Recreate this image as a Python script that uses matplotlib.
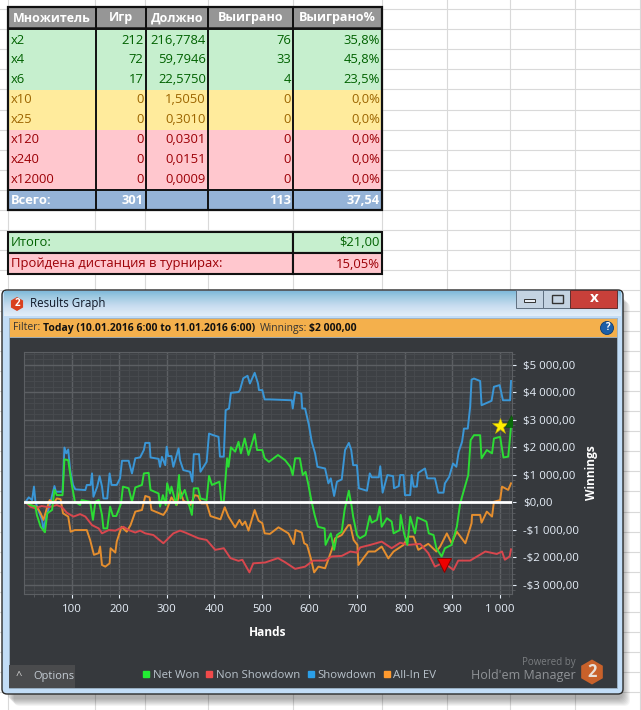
import numpy as np
import matplotlib.pyplot as plt
from matplotlib.lines import Line2D
from matplotlib.patches import Rectangle, FancyBboxPatch, Circle, RegularPolygon

# Datos de la tabla
multiplicadores = ["x2", "x4", "x6", "x10", "x25", "x120", "x240", "x12000"]
juegos = [212, 72, 17, 0, 0, 0, 0, 0]
debido = ["216,7784", "59,7946", "22,5750", "1,5050", "0,3010", "0,0301", "0,0151", "0,0009"]
ganados = [76, 33, 4, 0, 0, 0, 0, 0]
porcentaje = ["35,8%", "45,8%", "23,5%", "0,0%", "0,0%", "0,0%", "0,0%", "0,0%"]
encabezados = ["Множитель", "Игр", "Должно", "Выиграно", "Выиграно%"]
totales = ["Всего:", "301", "", "113", "37,54"]
resumen_etiquetas = ["Итого:", "Пройдена дистанция в турнирах:"]
resumen_valores = ["$21,00", "15,05%"]

# Datos del gráfico
manos_won = [3, 13, 24, 27, 35, 44, 49, 59, 64, 69, 81, 85, 93, 100, 107, 118, 121, 139, 145, 150, 157, 164, 167, 175, 181, 187, 194, 199, 204, 208, 220, 227, 234, 248, 252, 262, 266, 283, 286, 292, 298, 301, 307, 310, 320, 326, 329, 338, 353, 357, 366, 371, 384, 389, 395, 411, 415, 420, 427, 430, 435, 444, 451, 456, 464, 472, 485, 490, 501, 506, 515, 534, 549, 560, 565, 570, 580, 586, 592, 598, 604, 611, 618, 632, 634, 645, 652, 658, 668, 674, 683, 689, 692, 700, 706, 718, 727, 731, 742, 748, 752, 763, 773, 777, 790, 792, 799, 806, 812, 822, 827, 846, 851, 861, 867, 878, 885, 899, 910, 917, 924, 934, 939, 946, 959, 962, 973, 984, 988, 1001, 1008, 1018, 1024]
net_won = [0, -110, -170, -470, -900, -1100, -410, -290, 440, 250, 250, 1550, 1520, 680, 10, -110, 70, 10, -650, 10, 70, -470, -960, -960, -170, -510, -510, -290, -50, 560, 500, 10, 530, 620, 1040, 1060, 440, 310, -170, 250, -110, 680, 310, 560, -110, 980, 130, 440, -470, 500, 500, 130, 70, 950, 620, 740, 10, 10, 1590, 1280, 1990, 1830, 2190, 1770, 2310, 1710, 2470, 1890, 1890, 1590, 1460, 1710, 1520, 1280, 980, 1590, 1590, 980, 1100, 620, 70, -470, -900, -960, -1560, -1140, -1740, -1200, -1080, -290, 410, -170, -530, -1200, -1320, -1200, -510, -750, -650, -170, -900, -590, -710, -1140, -1020, -470, -1140, -1560, -530, -1140, -560, -710, -1140, -1200, -1680, -1980, -1680, -1560, -900, -50, 380, 980, 2250, 2430, 2430, 1590, 1890, 1770, 2310, 2370, 1620, 1650, 2730]

manos_non = [3, 13, 24, 37, 52, 69, 80, 90, 104, 118, 129, 143, 157, 164, 178, 192, 209, 220, 234, 244, 255, 272, 293, 314, 328, 339, 367, 384, 402, 420, 434, 451, 459, 474, 482, 507, 534, 549, 570, 591, 608, 633, 647, 668, 686, 700, 707, 728, 752, 773, 791, 808, 833, 850, 864, 882, 903, 913, 938, 970, 994, 1005, 1011, 1021, 1024]
non_showdown = [0, -170, -230, -145, -190, -110, -190, -390, -530, -440, -530, -840, -960, -1140, -1020, -1040, -900, -1020, -1110, -1040, -1140, -1200, -1500, -1140, -1040, -1110, -1320, -1380, -1740, -1680, -2040, -2140, -2100, -2560, -2230, -2200, -2040, -2190, -2430, -2350, -2130, -2130, -1980, -1960, -1800, -1840, -1650, -1560, -1440, -1680, -1480, -1560, -1520, -1860, -2350, -2200, -2470, -2130, -2130, -1800, -1890, -1800, -2100, -1980, -1720]

manos_show = [3, 10, 17, 21, 24, 30, 38, 41, 47, 55, 64, 67, 81, 85, 89, 93, 97, 103, 108, 129, 132, 140, 143, 146, 154, 159, 164, 167, 175, 180, 184, 195, 202, 206, 220, 227, 234, 244, 252, 255, 264, 266, 283, 286, 290, 297, 300, 303, 310, 314, 325, 328, 335, 349, 354, 357, 368, 371, 384, 389, 398, 409, 412, 420, 424, 431, 435, 451, 454, 461, 470, 475, 485, 492, 494, 501, 506, 517, 563, 565, 570, 583, 585, 591, 599, 605, 612, 617, 633, 640, 645, 652, 658, 668, 675, 683, 688, 692, 700, 704, 721, 727, 731, 746, 749, 754, 764, 776, 778, 788, 791, 798, 801, 812, 815, 819, 826, 829, 843, 848, 864, 871, 882, 885, 894, 902, 909, 914, 921, 925, 933, 938, 941, 946, 959, 962, 983, 988, 1000, 1007, 1022, 1024]
showdown = [0, 170, 70, 560, 10, -290, -650, -1020, -530, -50, 580, 375, 375, 1980, 1770, 1910, 1160, 620, 460, 435, 620, 620, 1040, 190, 560, 940, 560, 130, 130, 1040, 620, 620, 860, 1500, 1500, 1040, 1590, 1620, 1890, 2150, 2150, 1620, 1570, 1280, 1640, 1340, 2010, 1670, 1670, 1280, 1950, 1520, 1160, 1100, 740, 1740, 1740, 1100, 1460, 2490, 2430, 2370, 1650, 1650, 3340, 3400, 3970, 4000, 4070, 4500, 4590, 4310, 4700, 4310, 4070, 4070, 3730, 3730, 3700, 3400, 4000, 3940, 3400, 3400, 2800, 2190, 1770, 1280, 1220, 680, 860, 220, 740, 820, 1890, 2150, 1890, 1340, 1340, 500, 410, 1040, 900, 900, 1300, 340, 980, 940, 500, 580, 980, 980, 250, 250, 980, 560, 560, 1060, 1220, 860, 860, 340, 340, 680, 920, 1400, 1280, 1830, 2190, 2670, 2670, 3460, 4450, 4490, 4400, 3520, 3680, 4190, 4250, 3700, 3700, 4400]

manos_ev = [3, 13, 27, 35, 41, 47, 54, 62, 69, 77, 82, 93, 98, 107, 121, 132, 139, 147, 157, 160, 164, 171, 180, 182, 192, 195, 205, 216, 224, 234, 248, 255, 264, 268, 293, 300, 310, 321, 328, 335, 350, 359, 366, 373, 384, 392, 413, 422, 430, 444, 453, 459, 465, 472, 479, 485, 493, 501, 506, 517, 535, 556, 567, 571, 584, 589, 595, 604, 610, 619, 633, 647, 654, 668, 682, 686, 693, 701, 703, 711, 724, 738, 752, 766, 777, 798, 808, 819, 829, 850, 867, 875, 889, 899, 910, 928, 941, 942, 959, 962, 973, 984, 988, 1001, 1005, 1018, 1024]
all_in_ev = [0, -110, -170, -410, -650, -290, 70, -50, 130, 100, -410, -530, -1080, -1020, -1020, -1020, -1380, -1920, -1860, -1620, -2290, -2350, -2230, -1680, -1840, -1440, -900, -1080, -840, -350, -290, 220, 170, -290, -470, -290, 170, -110, 440, 50, -110, 250, 220, -50, -50, -510, -630, -190, -530, -920, -650, -840, -710, -1040, -630, -290, -680, -770, -1140, -1160, -920, -1140, -1530, -1020, -1110, -1500, -1560, -2110, -2560, -2350, -2410, -1740, -1320, -1200, -840, -840, -1380, -1560, -2290, -2100, -1800, -1800, -1620, -2050, -1800, -1560, -1260, -1260, -1740, -1520, -1800, -1620, -1140, -1500, -1080, -1500, -770, -470, -470, -750, -350, -530, 10, 70, 560, 440, 680]

ticks_manos = [100, 200, 300, 400, 500, 600, 700, 800, 900, 1000]
etiquetas_manos = ["100", "200", "300", "400", "500", "600", "700", "800", "900", "1 000"]
ticks_dinero = [5000, 4000, 3000, 2000, 1000, 0, -1000, -2000, -3000]
etiquetas_dinero = ["$5 000,00", "$4 000,00", "$3 000,00", "$2 000,00", "$1 000,00", "$0,00",
                    "-$1 000,00", "-$2 000,00", "-$3 000,00"]

plt.rcParams['font.family'] = ['Open Sans', 'DejaVu Sans']

# Configuración de la figura
fig = plt.figure(figsize=(6.41, 7.10), dpi=100)
fondo = fig.add_axes([0, 0, 1, 1])
fondo.set_xlim(0, 641)
fondo.set_ylim(710, 0)
fondo.axis('off')

# Cuadrícula de Excel
for x in [8, 95, 145, 208, 293, 382, 447, 510, 575, 640]:
    fondo.plot([x, x], [0, 710], color='#d9d9d9', lw=0.8, zorder=1)
for y in np.arange(9, 710, 20.1):
    fondo.plot([0, 641], [y, y], color='#d9d9d9', lw=0.8, zorder=1)

# Tabla superior
columnas = [8, 95.5, 145.5, 208, 293, 382]
filas = [30, 49.5, 69.5, 89.5, 109.5, 129.5, 149.5, 169.5, 189.5]
relleno = ['#c6efce'] * 3 + ['#ffeb9c'] * 2 + ['#ffc7ce'] * 3
texto = ['#006100'] * 3 + ['#9c6500'] * 2 + ['#9c0006'] * 3

for c in range(5):
    x0, x1 = columnas[c], columnas[c + 1]
    fondo.add_patch(Rectangle((x0, 7), x1 - x0, 21, fc='#969696', ec='#222222', lw=1.2, zorder=2))
    fondo.text((x0 + x1) / 2, 18, encabezados[c], color='white', fontsize=9.0, fontweight='bold',
               ha='center', va='center', zorder=3)
for i in range(8):
    y0, y1 = filas[i], filas[i + 1]
    fondo.add_patch(Rectangle((8, y0), 374, y1 - y0, fc=relleno[i], ec='none', zorder=2))
    valores = [juegos[i], debido[i], ganados[i], porcentaje[i]]
    fondo.text(11, y0 + 10, multiplicadores[i], color=texto[i], fontsize=9.4, va='center', zorder=3)
    for c in range(4):
        fondo.text(columnas[c + 2] - 2, y0 + 10, str(valores[c]), color=texto[i], fontsize=9.4,
                   ha='right', va='center', zorder=3)

fondo.add_patch(Rectangle((8, 189.5), 374, 20.5, fc='#95b3d7', ec='none', zorder=2))
fondo.text(11, 200, totales[0], color='white', fontsize=9.3, fontweight='bold', va='center', zorder=3)
for c in [1, 3, 4]:
    fondo.text(columnas[c + 1] - 2, 200, totales[c], color='white', fontsize=9.3, fontweight='bold',
               ha='right', va='center', zorder=3)

# Bordes de la tabla
fondo.add_patch(Rectangle((8, 7), 374, 203, fc='none', ec='#111111', lw=1.6, zorder=4))
fondo.plot([8, 382], [189.5, 189.5], color='#111111', lw=1.4, zorder=4)
fondo.plot([8, 382], [29, 29], color='#111111', lw=1.4, zorder=4)
for x in columnas[1:-1]:
    fondo.plot([x, x], [7, 210], color='#111111', lw=1.4, zorder=4)

# Tabla de resumen
alto = [232, 253, 274]
for i in range(2):
    color_f = '#c6efce' if i == 0 else '#ffc7ce'
    color_t = '#006100' if i == 0 else '#9c0006'
    fondo.add_patch(Rectangle((8, alto[i]), 285, alto[i + 1] - alto[i], fc=color_f, ec='#111111', lw=1.5, zorder=3))
    fondo.add_patch(Rectangle((293, alto[i]), 89, alto[i + 1] - alto[i], fc=color_f, ec='#111111', lw=1.5, zorder=3))
    fondo.text(11, alto[i] + 11, resumen_etiquetas[i], color=color_t, fontsize=9.4, va='center', zorder=4)
    fondo.text(380, alto[i] + 11, resumen_valores[i], color=color_t, fontsize=9.4, ha='right', va='center', zorder=4)

# Ventana de Results Graph
for k in range(1, 9):
    fondo.add_patch(FancyBboxPatch((6 + k, 294 + k), 616, 404, boxstyle='round,pad=0,rounding_size=6',
                                   fc='black', ec='none', alpha=0.045, zorder=5))
fondo.add_patch(FancyBboxPatch((2, 290), 621, 404, boxstyle='round,pad=0,rounding_size=5',
                               fc='#c2ddf7', ec='#2b2b2b', lw=1.0, zorder=6))
degradado = np.linspace(0, 1, 30).reshape(-1, 1)
fondo.imshow(degradado, extent=(4, 621, 316, 291), aspect='auto', cmap='Blues_r', vmin=-1.6, vmax=1.3, zorder=7)
fondo.set_xlim(0, 641)
fondo.set_ylim(710, 0)

fondo.add_patch(RegularPolygon((17, 304), 6, radius=7, fc='#d9401f', ec='none', zorder=8))
fondo.text(17, 304, "2", color='white', fontsize=7, fontweight='bold', ha='center', va='center', zorder=9)
fondo.text(30, 304, "Results Graph", color='#101828', fontsize=8.3, va='center', zorder=8)

# Botones de la ventana
fondo.add_patch(Rectangle((516, 290), 27, 18, fc='#c4d3e2', ec='#5f6f80', lw=0.7, zorder=8))
fondo.add_patch(Rectangle((543, 290), 27, 18, fc='#c4d3e2', ec='#5f6f80', lw=0.7, zorder=8))
fondo.add_patch(Rectangle((570, 290), 47, 18, fc='#c8403a', ec='#5f3030', lw=0.7, zorder=8))
fondo.add_patch(Rectangle((524, 299), 11, 3, fc='#e8eef5', ec='#333333', lw=0.7, zorder=9))
fondo.add_patch(Rectangle((552, 295), 11, 8, fc='none', ec='#333333', lw=1.0, zorder=9))
fondo.text(594, 298, "x", color='white', fontsize=11, fontweight='bold', ha='center', va='center', zorder=9)

# Barra de filtro y panel oscuro
fondo.add_patch(Rectangle((9, 318), 608, 370, fc='#36393d', ec='#9db4c8', lw=0.6, zorder=8))
fondo.add_patch(Rectangle((9, 318), 608, 19, fc='#f4b04c', ec='#9db4c8', lw=0.6, zorder=9))
fondo.text(13, 328, "Filter:", color='#333333', fontsize=7.5, va='center', zorder=10)
fondo.text(43, 328, "Today (10.01.2016 6:00 to 11.01.2016 6:00)", color='#111111', fontsize=7.5,
           fontweight='bold', va='center', zorder=10)
fondo.text(260, 328, "Winnings:", color='#333333', fontsize=7.5, va='center', zorder=10)
fondo.text(309, 328, "$2 000,00", color='#111111', fontsize=7.5, fontweight='bold', va='center', zorder=10)
fondo.add_patch(Circle((607, 328), 6.5, fc='#1c5fa8', ec='#0f3d70', lw=0.6, zorder=10))
fondo.text(607, 328, "?", color='white', fontsize=7, fontweight='bold', ha='center', va='center', zorder=11)

# Botón de opciones y logotipo
fondo.add_patch(Rectangle((9, 665), 66, 23, fc='#4a4b4d', ec='none', zorder=9))
fondo.text(19, 676, "^", color='#d0d0d0', fontsize=8, ha='center', va='center', zorder=10)
fondo.text(33, 677, "Options", color='#c4ccd4', fontsize=8, va='center', zorder=10)
fondo.text(576, 663, "Powered by", color='#7a7d80', fontsize=7, ha='right', va='center', zorder=10)
fondo.text(576, 675, "Hold'em Manager", color='#8f9296', fontsize=9, ha='right', va='center', zorder=10)
fondo.add_patch(RegularPolygon((592, 672), 6, radius=12.5, fc='#c8612a', ec='none', zorder=10))
fondo.text(592, 672, "2", color='#e8e0d8', fontsize=12, fontweight='bold', ha='center', va='center', zorder=11)

# Gráfico de resultados
ax = fig.add_axes([24 / 641, 1 - 594 / 710, 488 / 641, 242 / 710])
ax.set_facecolor('#3d4044')
ax.set_xlim(0, 1026)
ax.set_ylim(-3345, 5455)

ax.set_xticks(ticks_manos)
ax.set_xticklabels(etiquetas_manos)
ax.set_xticks(np.arange(20, 1026, 20), minor=True)
ax.set_yticks(ticks_dinero)
ax.set_yticklabels(etiquetas_dinero)
ax.set_yticks(np.arange(-3200, 5455, 200), minor=True)
ax.yaxis.tick_right()
ax.yaxis.set_label_position('right')
ax.grid(which='major', color='#5c5f63', lw=1.0)
ax.grid(which='minor', color='#484b4f', lw=0.6)
ax.set_axisbelow(True)
ax.tick_params(which='major', axis='x', colors='#e8f0fa', labelsize=8.2, length=3, pad=4)
ax.tick_params(which='major', axis='y', colors='#e8f0fa', labelsize=8.2, length=3, pad=5)
ax.tick_params(which='minor', colors='#5c5f63', length=2)
for lado in ax.spines.values():
    lado.set_color('#5c5f63')

ax.plot(manos_show, showdown, color='#3a96d6', lw=1.4, label="Showdown")
ax.plot(manos_ev, all_in_ev, color='#e58e2e', lw=1.4, label="All-In EV")
ax.plot(manos_non, non_showdown, color='#d8474e', lw=1.4, label="Non Showdown")
ax.plot(manos_won, net_won, color='#2cdc34', lw=1.4, label="Net Won")
ax.axhline(0, color='white', lw=2.0, zorder=5)

# Marcadores de máximo, mínimo y final
ax.plot([1000], [2760], marker='*', ms=12, color='#ffee00', mec='#c8b400', mew=0.4, zorder=6)
ax.plot([882], [-2290], marker='v', ms=10, color='#ee0000', mec='#8a0000', mew=0.7, zorder=6)
ax.plot([1024], [2950], marker='^', ms=9, color='#0a6a0a', mec='#0a4a0a', mew=0.4, zorder=6)

ax.set_xlabel("Hands", color='white', fontsize=8.6, fontweight='bold', labelpad=8)
ax.set_ylabel("Winnings", color='white', fontsize=8.6, fontweight='bold', labelpad=4)

# Leyenda
marcas = [Line2D([], [], ls='none', marker='s', ms=5, color=c)
          for c in ['#22ee33', '#f04a4a', '#2b9fe8', '#ff9a2e']]
ax.legend(marcas, ["Net Won", "Non Showdown", "Showdown", "All-In EV"], ncol=4, frameon=False,
          loc='center left', bbox_to_anchor=(118 / 488, -0.335), labelcolor='#b9c3cc', fontsize=8.2,
          handlelength=0.7, handletextpad=0.25, columnspacing=0.55, borderpad=0, borderaxespad=0)

fig.savefig('out.png', dpi=100)
